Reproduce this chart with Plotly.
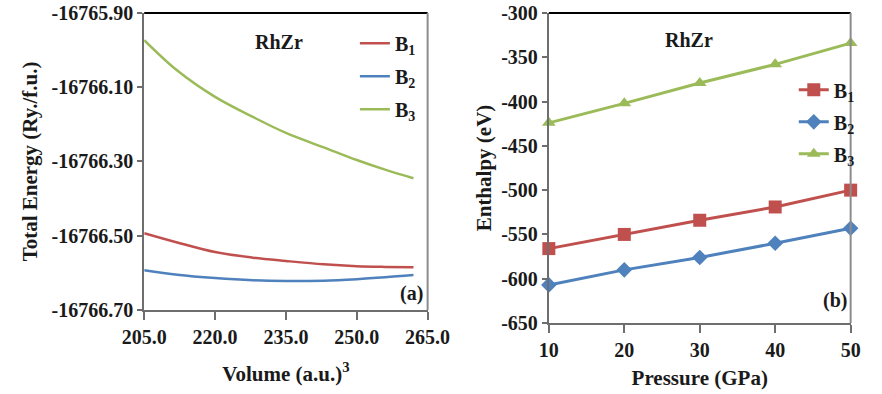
import plotly.graph_objects as go

# ---- Data: panel (a) total energy vs volume ----
volume = [205, 212, 220, 228, 235, 243, 250, 256, 262]
e_b1 = [-16766.493, -16766.518, -16766.544, -16766.559, -16766.568, -16766.577, -16766.582, -16766.584, -16766.585]
e_b2 = [-16766.593, -16766.605, -16766.614, -16766.620, -16766.622, -16766.621, -16766.617, -16766.612, -16766.606]
e_b3 = [-16765.973, -16766.055, -16766.126, -16766.180, -16766.223, -16766.262, -16766.296, -16766.322, -16766.345]

# ---- Data: panel (b) enthalpy vs pressure ----
pressure = [10, 20, 30, 40, 50]
h_b1 = [-566, -550, -534, -519, -500]
h_b2 = [-607, -590, -576, -560, -543]
h_b3 = [-424, -402, -379, -358, -334]

series_names = ["B<sub>1</sub>", "B<sub>2</sub>", "B<sub>3</sub>"]
colors = ["#c0504d", "#4f81bd", "#9bbb59"]
symbols = ["square", "diamond", "triangle-up"]
marker_sizes = [13, 12, 12]

ytick_a = [-16765.90, -16766.10, -16766.30, -16766.50, -16766.70]
ytick_a_text = ["-16765.90", "-16766.10", "-16766.30", "-16766.50", "-16766.70"]
xtick_a = [205, 220, 235, 250, 265]
xtick_a_text = ["205.0", "220.0", "235.0", "250.0", "265.0"]
ytick_b = [-300, -350, -400, -450, -500, -550, -600, -650]
ytick_b_text = ["-300", "-350", "-400", "-450", "-500", "-550", "-600", "-650"]
xtick_b = [10, 20, 30, 40, 50]

FONT = "Liberation Serif"
TXT = "#1a1a1a"
AX = "#6e6e6e"

fig = go.Figure()
for i, (name, ys, c) in enumerate(zip(series_names, [e_b1, e_b2, e_b3], colors)):
    fig.add_trace(go.Scatter(x=volume, y=ys, name=name, mode="lines",
                             line=dict(color=c, width=2.5, shape="spline"),
                             legendgroup=f"a{i}",
                             xaxis="x", yaxis="y", legend="legend"))
for i, (name, ys, c, s, ms) in enumerate(zip(series_names, [h_b1, h_b2, h_b3], colors, symbols, marker_sizes)):
    fig.add_trace(go.Scatter(x=pressure, y=ys, name=name, mode="lines+markers",
                             line=dict(color=c, width=3),
                             marker=dict(symbol=s, size=ms, color=c),
                             legendgroup=f"b{i}",
                             xaxis="x2", yaxis="y2", legend="legend2", cliponaxis=False))

tickfont = dict(family=FONT, size=20, color=TXT, weight="bold")
titlefont = dict(family=FONT, size=21, color=TXT, weight="bold")

common_axis = dict(showgrid=False, zeroline=False, showline=True, linecolor=AX, linewidth=2,
                   ticks="outside", tickcolor=AX, tickwidth=2, tickfont=tickfont)

fig.update_layout(
    width=882, height=394,
    margin=dict(l=0, r=0, t=13, b=71),
    paper_bgcolor="white", plot_bgcolor="white",
    font=dict(family=FONT, color=TXT),
    xaxis=dict(domain=[0.145, 0.484], range=[205, 265], tickvals=xtick_a, ticktext=xtick_a_text,
               ticklen=8, anchor="y",
               title=dict(text="Volume (a.u.)<sup>3</sup>", font=titlefont, standoff=19),
               **common_axis),
    yaxis=dict(domain=[0.042, 1.0], range=[-16766.70, -16765.90], tickvals=ytick_a, ticktext=ytick_a_text,
               ticklen=5, anchor="x",
               title=dict(text="Total Energy (Ry./f.u.)", font=titlefont, standoff=8),
               **common_axis),
    xaxis2=dict(domain=[0.629, 0.990], range=[10, 50], tickvals=xtick_b,
                ticklen=8, anchor="y2",
                title=dict(text="Pressure (GPa)", font=titlefont, standoff=10),
                **common_axis),
    yaxis2=dict(domain=[0.0, 1.0], range=[-650, -300], tickvals=ytick_b, ticktext=ytick_b_text,
                ticklen=5, anchor="x2",
                title=dict(text="Enthalpy (eV)", font=titlefont, standoff=4),
                **common_axis),
    legend=dict(x=0.397, y=0.965, xanchor="left", yanchor="top", bgcolor="rgba(0,0,0,0)",
                font=dict(family=FONT, size=20, color=TXT, weight="bold"), tracegroupgap=4, itemwidth=30),
    legend2=dict(x=0.922, y=0.815, xanchor="left", yanchor="top", bgcolor="rgba(0,0,0,0)",
                 font=dict(family=FONT, size=20, color=TXT, weight="bold"), tracegroupgap=3, itemwidth=30),
    showlegend=True,
)

# frame: black top, gray right
for xr, yr in [("x domain", "y domain"), ("x2 domain", "y2 domain")]:
    fig.add_shape(type="line", xref=xr, yref=yr, x0=0, x1=1, y0=1, y1=1, line=dict(color="black", width=2))
    fig.add_shape(type="line", xref=xr, yref=yr, x0=1, x1=1, y0=0, y1=1, line=dict(color="#8c8c8c", width=2))

ann_font = dict(family=FONT, size=20, color=TXT, weight="bold")
ann = dict(showarrow=False, font=ann_font, xanchor="center", yanchor="middle")
fig.add_annotation(xref="x domain", yref="y domain", x=0.475, y=0.902, text="RhZr", **ann)
fig.add_annotation(xref="x domain", yref="y domain", x=0.943, y=0.054, text="(a)", **ann)
fig.add_annotation(xref="x2 domain", yref="y2 domain", x=0.465, y=0.913, text="RhZr", **ann)
fig.add_annotation(xref="x2 domain", yref="y2 domain", x=0.947, y=0.074, text="(b)", **ann)

fig.write_html("out.html")
